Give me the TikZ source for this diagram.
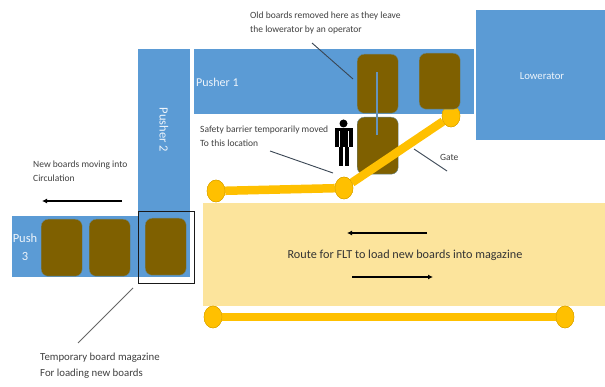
\documentclass[tikz,border=0pt]{standalone}
\usepackage{fontspec}
\setmainfont{Carlito}
\usetikzlibrary{arrows.meta}
\definecolor{pblue}{HTML}{5B9BD5}
\definecolor{board}{HTML}{7F6000}
\definecolor{bar}{HTML}{FFC000}
\definecolor{route}{HTML}{FCE49C}
\definecolor{lead}{HTML}{3A4654}
\tikzset{
  x=1pt,y=-1pt,
  pusher/.style={fill=pblue,draw=none,anchor=north west,minimum width=#1,inner sep=0pt},
  boardbox/.style={fill=board,draw=pblue!70!board,line width=.4pt,rounded corners=7pt,anchor=north west,minimum width=41pt,minimum height=57pt,inner sep=0pt},
  pin/.style={ellipse,fill=bar,draw=bar!85!black,line width=.4pt,minimum width=18pt,minimum height=22pt,inner sep=0pt},
  barline/.style={draw=bar,line width=8.5pt},
  note/.style={font=\fontsize{9.5}{14}\selectfont,text=black!75,align=left,anchor=north west,inner sep=0pt},
  wtext/.style={text=white!90!pblue,inner sep=0pt},
  leader/.style={draw=lead,line width=.9pt},
  flow/.style={draw=black,line width=1.5pt,-{Latex[length=5pt,width=5pt]}}
}
\usetikzlibrary{shapes.geometric}
\begin{document}
\begin{tikzpicture}
\useasboundingbox (0,0) rectangle (605,387);
\fill[white] (0,0) rectangle (605,387);
% route
\node[fill=route,anchor=north west,minimum width=402pt,minimum height=103pt,inner sep=0pt] (route) at (203,203) {};
% blue areas
\node[pusher=129pt,minimum height=130pt] (lowerator) at (476,10) {};
\node[wtext,font=\fontsize{10.7}{12}\selectfont] at (542,76) {Lowerator};
\node[pusher=280pt,minimum height=65pt] (p1) at (194,49) {};
\node[wtext,font=\fontsize{12}{13}\selectfont,anchor=west] at (196,82) {Pusher 1};
\node[pusher=52pt,minimum height=176pt] (p2) at (138,49) {};
\node[wtext,font=\fontsize{12.5}{13}\selectfont,rotate=-90] at (164,130) {Pusher 2};
\node[pusher=178pt,minimum height=61pt] (p3) at (12,216) {};
\node[wtext,font=\fontsize{12.5}{18}\selectfont,align=center] at (25,247) {Push\\3};
% boards
\node[boardbox,minimum height=59pt] (b1) at (357,54) {};
\node[boardbox] (b3) at (357,117) {};
\node[boardbox] (b4) at (41,219) {};
\node[boardbox] (b5) at (89,219) {};
\node[boardbox] (b6) at (145,218) {};
% magazine frame
\node[draw=black!90,line width=1.2pt,anchor=north west,minimum width=56pt,minimum height=72pt,inner sep=0pt] (mag) at (138,211) {};
% vertical line
\coordinate (va) at (377,72);
\coordinate (vb) at (377,135);
\draw[draw=pblue!70!gray,line width=2pt] (va) -- (vb);
% barriers
\node[pin] (g1) at (216,191) {};
\node[pin] (g2) at (344,188) {};
\node[pin] (g3) at (451,116) {};
\node[pin] (g4) at (213,317) {};
\node[pin] (g5) at (565,317) {};
\draw[barline] (g1) -- (g2);
\draw[barline] (g2) -- (g3);
\draw[barline] (g4) -- (g5);
\node[pin] at (g1) {};
\node[pin] at (g2) {};
\node[pin] at (g3) {};
\node[pin] at (g4) {};
\node[pin] at (g5) {};
\node[boardbox,minimum height=56pt] (b2) at (419,53) {};
% person
\fill[black] (343.5,123.5) circle (4pt);
\fill[black] (335,128) rectangle (353,147);
\fill[black] (339,147) rectangle (343,166);
\fill[black] (345,147) rectangle (349,166);
\fill[white] (339,131) rectangle (339.6,147);
\fill[white] (348.4,131) rectangle (349,147);
% notes
\node[note] (n1) at (250,12) {Old boards removed here as they leave\\the lowerator by an operator};
\coordinate (n1a) at (312,43);
\coordinate (n1b) at (353,79);
\draw[leader] (n1a) -- (n1b);
\node[note] (n2) at (200,126) {Safety barrier temporarily moved\\To this location};
\coordinate (n2a) at (270,151);
\coordinate (n2b) at (333,173);
\draw[leader] (n2a) -- (n2b);
\node[note] (n3) at (440,154) {Gate};
\coordinate (n3a) at (447,171);
\coordinate (n3b) at (414,149);
\draw[leader] (n3a) -- (n3b);
\node[note] (n4) at (33,161) {New boards moving into\\Circulation};
\coordinate (f1a) at (122,201);
\coordinate (f1b) at (42,201);
\draw[flow] (f1a) -- (f1b);
\node[note,font=\fontsize{10.8}{16}\selectfont] (n5) at (40,353) {Temporary board magazine\\For loading new boards};
\coordinate (n5a) at (78,343);
\coordinate (n5b) at (133,288);
\draw[leader,draw=black!60] (n5a) -- (n5b);
\node[font=\fontsize{12.2}{13}\selectfont,text=black!80,inner sep=0pt] (rt) at (405,255) {Route for FLT to load new boards into magazine};
\coordinate (f2a) at (427,233);
\coordinate (f2b) at (347,233);
\draw[flow] (f2a) -- (f2b);
\coordinate (f3a) at (352,277);
\coordinate (f3b) at (433,277);
\draw[flow] (f3a) -- (f3b);
\end{tikzpicture}
\end{document}
